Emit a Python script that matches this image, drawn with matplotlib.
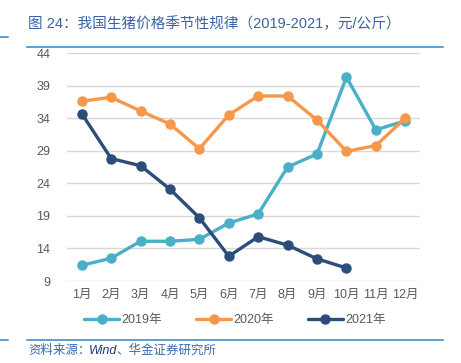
import matplotlib
matplotlib.use('Agg')
from matplotlib import pyplot as plt
from matplotlib.lines import Line2D

plt.rcParams['font.family'] = ['Liberation Sans', 'Noto Sans CJK SC', 'DejaVu Sans']

months = ['1月', '2月', '3月', '4月', '5月', '6月', '7月', '8月', '9月', '10月', '11月', '12月']
prices_2019 = [11.4, 12.5, 15.1, 15.1, 15.4, 17.9, 19.3, 26.5, 28.5, 40.3, 32.2, 33.6]
prices_2020 = [36.6, 37.2, 35.1, 33.1, 29.3, 34.5, 37.4, 37.4, 33.7, 28.9, 29.8, 34.0]
prices_2021 = [34.7, 27.8, 26.7, 23.1, 18.7, 12.8, 15.8, 14.5, 12.4, 11.0]
y_ticks = [9, 14, 19, 24, 29, 34, 39, 44]

series = [
    ('2019年', prices_2019, '#4aafc9'),
    ('2020年', prices_2020, '#f7974a'),
    ('2021年', prices_2021, '#2b4d7a'),
]

fig = plt.figure(figsize=(4.61, 3.63), dpi=100)
ax = fig.add_axes([67 / 461, 1 - 281 / 363, (420 - 67) / 461, (281 - 53) / 363])

handles = []
for label, values, color in series:
    x = list(range(1, len(values) + 1))
    h, = ax.plot(x, values, color=color, linewidth=2.4, marker='o', markersize=6.5,
                 label=label, solid_capstyle='round', solid_joinstyle='round')
    handles.append(h)

ax.set_xlim(0.5, 12.5)
ax.set_ylim(9, 44)
ax.set_yticks(y_ticks)
ax.set_xticks(range(1, 13))
ax.set_xticklabels(months)
ax.tick_params(length=0, labelsize=9, colors='#595959', pad=6)
ax.tick_params(axis='y', pad=12)
ax.yaxis.grid(True, color='#d9d9d9', linewidth=1)
ax.set_axisbelow(True)
for s in ax.spines.values():
    s.set_visible(False)

fig.legend(handles=handles, loc='center', bbox_to_anchor=(235 / 461, 1 - 320 / 363), ncol=3,
           frameon=False, fontsize=9, handlelength=2.8, columnspacing=2.7,
           handletextpad=0.2, labelcolor='#595959')

# header / footer rules
blue = '#2e86c8'
for y in (1 - 46.5 / 363, 1 - 340 / 363):
    fig.add_artist(Line2D([27 / 461, 443 / 461], [y, y], color=blue, linewidth=1.1))
fig.add_artist(Line2D([0, 8 / 461], [1 - 37.3 / 363] * 2, color=blue, linewidth=1.1))
fig.add_artist(Line2D([0, 8 / 461], [1 - 340 / 363] * 2, color=blue, linewidth=1.1))

fig.text(28 / 461, 1 - 24 / 363, '图 24：我国生猪价格季节性规律（2019-2021，元/公斤）',
         fontsize=10.5, color='#3a62a8', va='center', ha='left')
fig.text(28 / 461, 1 - 351 / 363, '资料来源：', fontsize=9, color='#3a6bb0',
         va='center', ha='left', style='italic')
fig.text(89 / 461, 1 - 351 / 363, 'Wind', fontsize=9, color='#1f3a78',
         va='center', ha='left', style='italic')
fig.text(116 / 461, 1 - 351 / 363, '、华金证券研究所', fontsize=9, color='#3a6bb0',
         va='center', ha='left', style='italic')

fig.savefig('out.png', dpi=100)
